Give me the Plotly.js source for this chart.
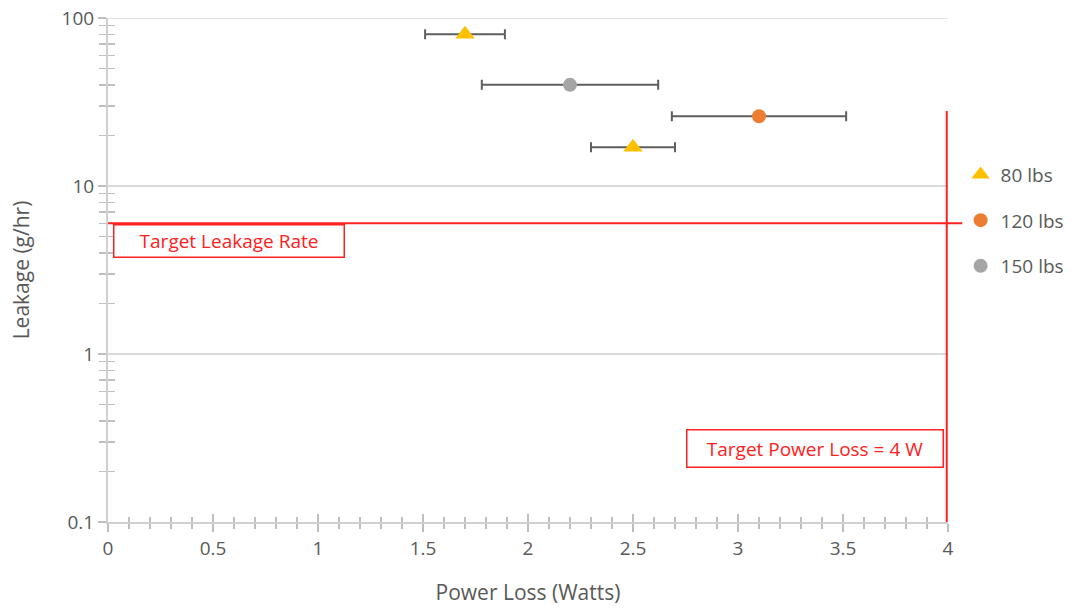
<!DOCTYPE html>
<html>
<head>
<meta charset="utf-8">
<script src="https://cdn.plot.ly/plotly-3.0.1.min.js"></script>
<style>html,body{margin:0;padding:0;background:#fff;}#chart{width:1078px;height:611px;}</style>
</head>
<body>
<div id="chart"></div>
<script>
// Data
const seriesNames = ["80 lbs", "120 lbs", "150 lbs"];
const powerLoss80 = [1.7, 2.5];
const leakage80 = [80, 17];
const powerErr80 = [0.19, 0.2];
const powerLoss120 = [3.1];
const leakage120 = [26];
const powerErr120 = [0.415];
const powerLoss150 = [2.2];
const leakage150 = [40];
const powerErr150 = [0.42];

const targetLeakage = 6;      // g/hr
const targetPower = 4;        // W
const targetLineTop = 28;     // top of the vertical target line (g/hr)

const yTickVals = [0.1, 1, 10, 100];
const yTickText = ["0.1", "1", "10", "100"];
const xTickVals = [0, 0.5, 1, 1.5, 2, 2.5, 3, 3.5, 4];
const xTickText = ["0", "0.5", "1", "1.5", "2", "2.5", "3", "3.5", "4"];

const FONT = "Open Sans, Noto Sans, sans-serif";
const errStyle = {type: "data", visible: true, color: "#5f5f5f", thickness: 2, width: 5};

function errx(arr) { return Object.assign({array: arr, symmetric: true}, errStyle); }

const traces = [
  {x: powerLoss80, y: leakage80, name: seriesNames[0], mode: "markers", type: "scatter",
   marker: {symbol: "triangle-up", size: 17, color: "#FFC000"}, error_x: errx(powerErr80),
   legendgroup: "a"},
  {x: powerLoss120, y: leakage120, name: seriesNames[1], mode: "markers", type: "scatter",
   marker: {symbol: "circle", size: 14, color: "#ED7D31"}, error_x: errx(powerErr120),
   legendgroup: "b"},
  {x: powerLoss150, y: leakage150, name: seriesNames[2], mode: "markers", type: "scatter",
   marker: {symbol: "circle", size: 14, color: "#A5A5A5"}, error_x: errx(powerErr150),
   legendgroup: "c"}
];

const minorY = [];
[0.1, 1, 10].forEach(d => { for (let k = 2; k <= 9; k++) minorY.push(+(d * k).toPrecision(3)); });

const layout = {
  width: 1078, height: 611,
  margin: {l: 108, r: 130, t: 18, b: 89, autoexpand: false},
  paper_bgcolor: "#fff", plot_bgcolor: "#fff",
  font: {family: FONT, color: "#595959", size: 19},
  showlegend: true,
  legend: {x: 1.015, y: 0.727, xanchor: "left", yanchor: "top",
           font: {family: FONT, size: 19, color: "#595959"},
           traceorder: "grouped", tracegroupgap: 18, itemwidth: 30,
           bgcolor: "rgba(0,0,0,0)"},
  xaxis: {
    type: "linear", range: [0, 4], tickmode: "array", tickvals: xTickVals, ticktext: xTickText,
    ticks: "outside", ticklen: 8, tickwidth: 1.5, tickcolor: "#BFBFBF",
    showline: true, linecolor: "#D0D0D0", linewidth: 2,
    showgrid: false, zeroline: false,
    minor: {dtick: 0.1, ticks: "outside", ticklen: 5, tickwidth: 1.5, tickcolor: "#BFBFBF", showgrid: false},
    tickfont: {family: FONT, size: 19, color: "#595959"},
    title: {text: "Power Loss (Watts)", font: {family: FONT, size: 21, color: "#595959"}, standoff: 26}
  },
  yaxis: {
    type: "log", range: [-1, 2], tickmode: "array", tickvals: yTickVals, ticktext: yTickText,
    ticks: "outside", ticklen: 8, tickwidth: 1.5, tickcolor: "#BFBFBF",
    showline: true, linecolor: "#D0D0D0", linewidth: 2,
    showgrid: true, gridcolor: "#D9D9D9", gridwidth: 1.5, zeroline: false,
    minor: {tickmode: "array", tickvals: minorY, ticks: "outside", ticklen: 7, tickwidth: 1.5, tickcolor: "#BFBFBF", showgrid: false},
    tickfont: {family: FONT, size: 19, color: "#595959"},
    title: {text: "Leakage (g/hr)", font: {family: FONT, size: 21, color: "#595959"}, standoff: 26}
  },
  xaxis2: {
    overlaying: "x", range: [0, 4], tickmode: "array", tickvals: xTickVals, showticklabels: false,
    ticks: "inside", ticklen: 8, tickwidth: 1.5, tickcolor: "#BFBFBF", showgrid: false, zeroline: false,
    showline: false,
    minor: {dtick: 0.1, ticks: "inside", ticklen: 5, tickwidth: 1.5, tickcolor: "#BFBFBF", showgrid: false}
  },
  yaxis2: {
    overlaying: "y", type: "log", range: [-1, 2], tickmode: "array", tickvals: yTickVals, showticklabels: false,
    ticks: "inside", ticklen: 0, tickwidth: 1.5, tickcolor: "#BFBFBF", showgrid: false, zeroline: false,
    showline: false, side: "left",
    minor: {tickmode: "array", tickvals: minorY, ticks: "inside", ticklen: 7, tickwidth: 1.5, tickcolor: "#BFBFBF", showgrid: false}
  },
  shapes: [
    {type: "line", xref: "paper", yref: "y", x0: 0, x1: 1, y0: yTickVals[3], y1: yTickVals[3],
     line: {color: "#D9D9D9", width: 1.5}, layer: "below"},
    {type: "line", xref: "paper", yref: "y", x0: 0, x1: 1.017, y0: targetLeakage, y1: targetLeakage,
     line: {color: "#FF2020", width: 1.8}},
    {type: "line", xref: "x", yref: "y", x0: targetPower - 0.006, x1: targetPower - 0.006, y0: 0.1, y1: targetLineTop,
     line: {color: "#FF2020", width: 2}}
  ],
  annotations: [
    {xref: "paper", yref: "paper", x: 0.006, y: 0.591, xanchor: "left", yanchor: "top",
     text: "Target Leakage Rate", showarrow: false, align: "center",
     font: {family: FONT, size: 19, color: "#FF2020"},
     bordercolor: "#FF2020", borderwidth: 1.5, borderpad: 1, width: 227, height: 29, bgcolor: "#fff"},
    {xref: "paper", yref: "paper", x: 0.688, y: 0.1845, xanchor: "left", yanchor: "top",
     text: "Target Power Loss = 4 W", showarrow: false, align: "center",
     font: {family: FONT, size: 19, color: "#FF2020"},
     bordercolor: "#FF2020", borderwidth: 1.5, borderpad: 1, width: 253, height: 34, bgcolor: "#fff"}
  ]
};

// Invisible trace to activate the overlay axes that draw the crossing tick halves
traces.push({x: [0], y: [1], xaxis: "x2", yaxis: "y2", mode: "markers", marker: {opacity: 0}, showlegend: false, hoverinfo: "skip"});

Plotly.newPlot("chart", traces, layout, {displayModeBar: false, staticPlot: true});
</script>
</body>
</html>
